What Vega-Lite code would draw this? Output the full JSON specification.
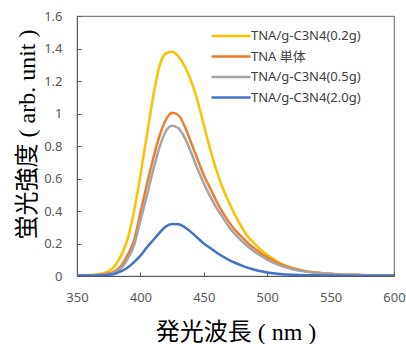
{
  "$schema": "https://vega.github.io/schema/vega-lite/v6.json",
  "width": 317,
  "height": 260,
  "autosize": "none",
  "padding": {"left": 77, "top": 16, "right": 12, "bottom": 68},
  "background": "white",
  "config": {
    "view": {"stroke": "#7f7f7f", "strokeWidth": 1.2},
    "axis": {"grid": false, "labelFont": "Noto Sans", "labelFontSize": 13, "labelColor": "#595959", "tickColor": "#595959", "domainColor": "#595959", "tickSize": -4, "domain": true, "labelFlush": false}
  },
  "data": {"values": [
    {"s":"TNA/g-C3N4(0.2g)","wl":350,"v":0.004},{"s":"TNA/g-C3N4(0.2g)","wl":355,"v":0.004},{"s":"TNA/g-C3N4(0.2g)","wl":360,"v":0.006},{"s":"TNA/g-C3N4(0.2g)","wl":365,"v":0.01},{"s":"TNA/g-C3N4(0.2g)","wl":370,"v":0.015},{"s":"TNA/g-C3N4(0.2g)","wl":375,"v":0.03},{"s":"TNA/g-C3N4(0.2g)","wl":380,"v":0.065},{"s":"TNA/g-C3N4(0.2g)","wl":385,"v":0.13},{"s":"TNA/g-C3N4(0.2g)","wl":390,"v":0.23},{"s":"TNA/g-C3N4(0.2g)","wl":395,"v":0.4},{"s":"TNA/g-C3N4(0.2g)","wl":400,"v":0.62},{"s":"TNA/g-C3N4(0.2g)","wl":405,"v":0.86},{"s":"TNA/g-C3N4(0.2g)","wl":410,"v":1.1},{"s":"TNA/g-C3N4(0.2g)","wl":415,"v":1.29},{"s":"TNA/g-C3N4(0.2g)","wl":420,"v":1.37},{"s":"TNA/g-C3N4(0.2g)","wl":425,"v":1.38},{"s":"TNA/g-C3N4(0.2g)","wl":430,"v":1.35},{"s":"TNA/g-C3N4(0.2g)","wl":435,"v":1.29},{"s":"TNA/g-C3N4(0.2g)","wl":440,"v":1.2},{"s":"TNA/g-C3N4(0.2g)","wl":445,"v":1.08},{"s":"TNA/g-C3N4(0.2g)","wl":450,"v":0.93},{"s":"TNA/g-C3N4(0.2g)","wl":455,"v":0.78},{"s":"TNA/g-C3N4(0.2g)","wl":460,"v":0.65},{"s":"TNA/g-C3N4(0.2g)","wl":465,"v":0.54},{"s":"TNA/g-C3N4(0.2g)","wl":470,"v":0.45},{"s":"TNA/g-C3N4(0.2g)","wl":475,"v":0.37},{"s":"TNA/g-C3N4(0.2g)","wl":480,"v":0.3},{"s":"TNA/g-C3N4(0.2g)","wl":485,"v":0.24},{"s":"TNA/g-C3N4(0.2g)","wl":490,"v":0.2},{"s":"TNA/g-C3N4(0.2g)","wl":495,"v":0.16},{"s":"TNA/g-C3N4(0.2g)","wl":500,"v":0.13},{"s":"TNA/g-C3N4(0.2g)","wl":510,"v":0.08},{"s":"TNA/g-C3N4(0.2g)","wl":520,"v":0.05},{"s":"TNA/g-C3N4(0.2g)","wl":530,"v":0.03},{"s":"TNA/g-C3N4(0.2g)","wl":540,"v":0.02},{"s":"TNA/g-C3N4(0.2g)","wl":550,"v":0.014},{"s":"TNA/g-C3N4(0.2g)","wl":560,"v":0.01},{"s":"TNA/g-C3N4(0.2g)","wl":570,"v":0.007},{"s":"TNA/g-C3N4(0.2g)","wl":580,"v":0.005},{"s":"TNA/g-C3N4(0.2g)","wl":590,"v":0.004},{"s":"TNA/g-C3N4(0.2g)","wl":600,"v":0.003},
    {"s":"TNA 単体","wl":350,"v":0.003},{"s":"TNA 単体","wl":360,"v":0.004},{"s":"TNA 単体","wl":365,"v":0.006},{"s":"TNA 単体","wl":370,"v":0.01},{"s":"TNA 単体","wl":375,"v":0.015},{"s":"TNA 単体","wl":380,"v":0.03},{"s":"TNA 単体","wl":385,"v":0.065},{"s":"TNA 単体","wl":390,"v":0.13},{"s":"TNA 単体","wl":395,"v":0.22},{"s":"TNA 単体","wl":400,"v":0.39},{"s":"TNA 単体","wl":405,"v":0.56},{"s":"TNA 単体","wl":410,"v":0.72},{"s":"TNA 単体","wl":415,"v":0.86},{"s":"TNA 単体","wl":420,"v":0.96},{"s":"TNA 単体","wl":425,"v":1.005},{"s":"TNA 単体","wl":430,"v":0.99},{"s":"TNA 単体","wl":435,"v":0.92},{"s":"TNA 単体","wl":440,"v":0.82},{"s":"TNA 単体","wl":445,"v":0.72},{"s":"TNA 単体","wl":450,"v":0.62},{"s":"TNA 単体","wl":455,"v":0.54},{"s":"TNA 単体","wl":460,"v":0.46},{"s":"TNA 単体","wl":465,"v":0.39},{"s":"TNA 単体","wl":470,"v":0.33},{"s":"TNA 単体","wl":475,"v":0.28},{"s":"TNA 単体","wl":480,"v":0.24},{"s":"TNA 単体","wl":485,"v":0.2},{"s":"TNA 単体","wl":490,"v":0.17},{"s":"TNA 単体","wl":495,"v":0.14},{"s":"TNA 単体","wl":500,"v":0.115},{"s":"TNA 単体","wl":510,"v":0.075},{"s":"TNA 単体","wl":520,"v":0.048},{"s":"TNA 単体","wl":530,"v":0.03},{"s":"TNA 単体","wl":540,"v":0.02},{"s":"TNA 単体","wl":550,"v":0.014},{"s":"TNA 単体","wl":560,"v":0.01},{"s":"TNA 単体","wl":570,"v":0.007},{"s":"TNA 単体","wl":580,"v":0.005},{"s":"TNA 単体","wl":590,"v":0.004},{"s":"TNA 単体","wl":600,"v":0.003},
    {"s":"TNA/g-C3N4(0.5g)","wl":350,"v":0.003},{"s":"TNA/g-C3N4(0.5g)","wl":360,"v":0.004},{"s":"TNA/g-C3N4(0.5g)","wl":365,"v":0.005},{"s":"TNA/g-C3N4(0.5g)","wl":370,"v":0.008},{"s":"TNA/g-C3N4(0.5g)","wl":375,"v":0.012},{"s":"TNA/g-C3N4(0.5g)","wl":380,"v":0.022},{"s":"TNA/g-C3N4(0.5g)","wl":385,"v":0.05},{"s":"TNA/g-C3N4(0.5g)","wl":390,"v":0.105},{"s":"TNA/g-C3N4(0.5g)","wl":395,"v":0.19},{"s":"TNA/g-C3N4(0.5g)","wl":400,"v":0.34},{"s":"TNA/g-C3N4(0.5g)","wl":405,"v":0.49},{"s":"TNA/g-C3N4(0.5g)","wl":410,"v":0.65},{"s":"TNA/g-C3N4(0.5g)","wl":415,"v":0.79},{"s":"TNA/g-C3N4(0.5g)","wl":420,"v":0.89},{"s":"TNA/g-C3N4(0.5g)","wl":425,"v":0.925},{"s":"TNA/g-C3N4(0.5g)","wl":430,"v":0.91},{"s":"TNA/g-C3N4(0.5g)","wl":435,"v":0.85},{"s":"TNA/g-C3N4(0.5g)","wl":440,"v":0.76},{"s":"TNA/g-C3N4(0.5g)","wl":445,"v":0.66},{"s":"TNA/g-C3N4(0.5g)","wl":450,"v":0.57},{"s":"TNA/g-C3N4(0.5g)","wl":455,"v":0.49},{"s":"TNA/g-C3N4(0.5g)","wl":460,"v":0.42},{"s":"TNA/g-C3N4(0.5g)","wl":465,"v":0.36},{"s":"TNA/g-C3N4(0.5g)","wl":470,"v":0.3},{"s":"TNA/g-C3N4(0.5g)","wl":475,"v":0.255},{"s":"TNA/g-C3N4(0.5g)","wl":480,"v":0.215},{"s":"TNA/g-C3N4(0.5g)","wl":485,"v":0.18},{"s":"TNA/g-C3N4(0.5g)","wl":490,"v":0.15},{"s":"TNA/g-C3N4(0.5g)","wl":495,"v":0.125},{"s":"TNA/g-C3N4(0.5g)","wl":500,"v":0.1},{"s":"TNA/g-C3N4(0.5g)","wl":510,"v":0.065},{"s":"TNA/g-C3N4(0.5g)","wl":520,"v":0.042},{"s":"TNA/g-C3N4(0.5g)","wl":530,"v":0.027},{"s":"TNA/g-C3N4(0.5g)","wl":540,"v":0.018},{"s":"TNA/g-C3N4(0.5g)","wl":550,"v":0.012},{"s":"TNA/g-C3N4(0.5g)","wl":560,"v":0.009},{"s":"TNA/g-C3N4(0.5g)","wl":570,"v":0.006},{"s":"TNA/g-C3N4(0.5g)","wl":580,"v":0.005},{"s":"TNA/g-C3N4(0.5g)","wl":590,"v":0.004},{"s":"TNA/g-C3N4(0.5g)","wl":600,"v":0.003},
    {"s":"TNA/g-C3N4(2.0g)","wl":350,"v":0.002},{"s":"TNA/g-C3N4(2.0g)","wl":360,"v":0.003},{"s":"TNA/g-C3N4(2.0g)","wl":370,"v":0.004},{"s":"TNA/g-C3N4(2.0g)","wl":375,"v":0.007},{"s":"TNA/g-C3N4(2.0g)","wl":380,"v":0.014},{"s":"TNA/g-C3N4(2.0g)","wl":385,"v":0.03},{"s":"TNA/g-C3N4(2.0g)","wl":390,"v":0.052},{"s":"TNA/g-C3N4(2.0g)","wl":395,"v":0.085},{"s":"TNA/g-C3N4(2.0g)","wl":400,"v":0.125},{"s":"TNA/g-C3N4(2.0g)","wl":405,"v":0.175},{"s":"TNA/g-C3N4(2.0g)","wl":410,"v":0.22},{"s":"TNA/g-C3N4(2.0g)","wl":415,"v":0.265},{"s":"TNA/g-C3N4(2.0g)","wl":420,"v":0.305},{"s":"TNA/g-C3N4(2.0g)","wl":425,"v":0.32},{"s":"TNA/g-C3N4(2.0g)","wl":430,"v":0.318},{"s":"TNA/g-C3N4(2.0g)","wl":435,"v":0.3},{"s":"TNA/g-C3N4(2.0g)","wl":440,"v":0.27},{"s":"TNA/g-C3N4(2.0g)","wl":445,"v":0.235},{"s":"TNA/g-C3N4(2.0g)","wl":450,"v":0.2},{"s":"TNA/g-C3N4(2.0g)","wl":455,"v":0.172},{"s":"TNA/g-C3N4(2.0g)","wl":460,"v":0.145},{"s":"TNA/g-C3N4(2.0g)","wl":465,"v":0.12},{"s":"TNA/g-C3N4(2.0g)","wl":470,"v":0.098},{"s":"TNA/g-C3N4(2.0g)","wl":475,"v":0.08},{"s":"TNA/g-C3N4(2.0g)","wl":480,"v":0.064},{"s":"TNA/g-C3N4(2.0g)","wl":485,"v":0.05},{"s":"TNA/g-C3N4(2.0g)","wl":490,"v":0.038},{"s":"TNA/g-C3N4(2.0g)","wl":495,"v":0.029},{"s":"TNA/g-C3N4(2.0g)","wl":500,"v":0.022},{"s":"TNA/g-C3N4(2.0g)","wl":510,"v":0.013},{"s":"TNA/g-C3N4(2.0g)","wl":520,"v":0.008},{"s":"TNA/g-C3N4(2.0g)","wl":530,"v":0.005},{"s":"TNA/g-C3N4(2.0g)","wl":540,"v":0.004},{"s":"TNA/g-C3N4(2.0g)","wl":550,"v":0.003},{"s":"TNA/g-C3N4(2.0g)","wl":560,"v":0.002},{"s":"TNA/g-C3N4(2.0g)","wl":580,"v":0.002},{"s":"TNA/g-C3N4(2.0g)","wl":600,"v":0.001}
  ]},
  "mark": {"type": "line", "strokeWidth": 2.5, "interpolate": "monotone", "clip": true},
  "encoding": {
    "x": {"field": "wl", "type": "quantitative", "scale": {"domain": [350, 600], "nice": false, "zero": false},
      "axis": {"values": [350, 400, 450, 500, 550, 600], "labelPadding": 19, "title": "発光波長 ( nm )", "titleFont": "Liberation Serif, Noto Sans CJK JP", "titleFontSize": 24, "titleFontWeight": "normal", "titleColor": "#000000", "titlePadding": 16}},
    "y": {"field": "v", "type": "quantitative", "scale": {"domain": [0, 1.6], "nice": false},
      "axis": {"values": [0, 0.2, 0.4, 0.6, 0.8, 1, 1.2, 1.4, 1.6], "labelExpr": "format(datum.value, '~g')", "labelPadding": 19, "title": "蛍光強度 ( arb. unit )", "titleFont": "Liberation Serif, Noto Sans CJK JP", "titleFontSize": 24, "titleFontWeight": "normal", "titleColor": "#000000", "titleX": -50, "titleY": 118, "titleBaseline": "middle", "titleAlign": "center"}},
    "color": {"field": "s", "type": "nominal", "sort": ["TNA/g-C3N4(0.2g)", "TNA 単体", "TNA/g-C3N4(0.5g)", "TNA/g-C3N4(2.0g)"],
      "scale": {"domain": ["TNA/g-C3N4(0.2g)", "TNA 単体", "TNA/g-C3N4(0.5g)", "TNA/g-C3N4(2.0g)"], "range": ["#FFC000", "#ED7D31", "#A5A5A5", "#4472C4"]},
      "legend": {"title": null, "orient": "none", "legendX": 143, "legendY": 9, "symbolType": "M-2,0H2", "symbolSize": 380, "symbolStrokeWidth": 2.5, "symbolFillColor": "transparent", "labelFont": "Noto Sans, Noto Sans CJK JP", "labelFontSize": 13, "labelColor": "#404040", "labelOffset": 9, "rowPadding": 2.5}},
    "order": {"field": "s", "sort": "descending"}
  }
}
